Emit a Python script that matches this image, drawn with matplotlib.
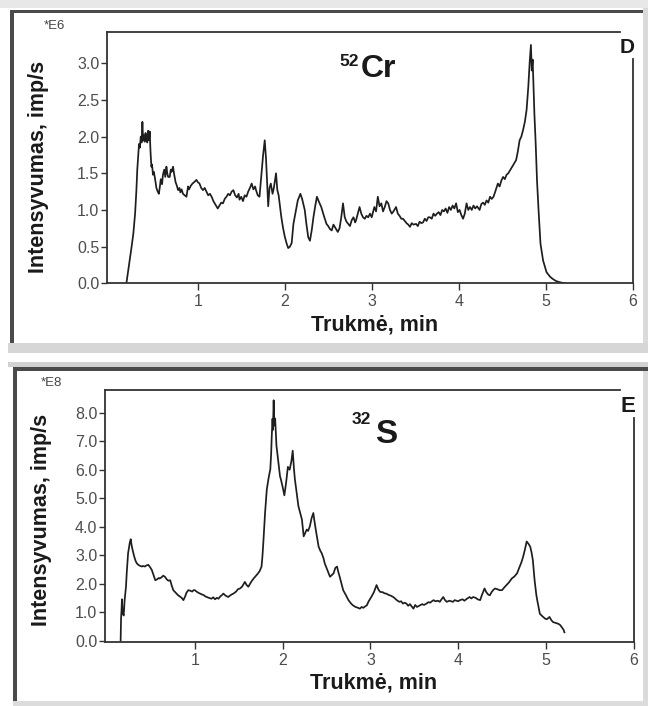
import matplotlib
matplotlib.use("Agg")
import matplotlib.pyplot as plt
from matplotlib.patches import Rectangle

plt.rcParams['font.family'] = ['Liberation Sans', 'DejaVu Sans']

# ---------------- data ----------------
cr_time = [0.18, 0.21, 0.24, 0.26, 0.28, 0.295, 0.305, 0.315, 0.325, 0.335, 0.345, 0.355, 0.364, 0.372,
           0.38, 0.39, 0.40, 0.41, 0.42, 0.43, 0.44, 0.448, 0.457, 0.467, 0.475, 0.485, 0.495, 0.506,
           0.515, 0.525, 0.54, 0.553, 0.563, 0.575, 0.59, 0.60, 0.615, 0.627, 0.64, 0.65, 0.66, 0.678,
           0.69, 0.70, 0.716, 0.73, 0.745, 0.76, 0.774, 0.79, 0.80, 0.815, 0.83, 0.85, 0.87, 0.88,
           0.889, 0.90, 0.92, 0.94, 0.96, 0.985, 1.00, 1.02, 1.04, 1.06, 1.08, 1.10, 1.12, 1.14,
           1.16, 1.18, 1.20, 1.22, 1.23, 1.25, 1.27, 1.29, 1.31, 1.33, 1.35, 1.37, 1.39, 1.41,
           1.43, 1.45, 1.47, 1.48, 1.50, 1.52, 1.54, 1.56, 1.58, 1.60, 1.62, 1.64, 1.66, 1.67,
           1.69, 1.71, 1.73, 1.75, 1.77, 1.785, 1.80, 1.81, 1.825, 1.84, 1.86, 1.875, 1.89, 1.90,
           1.915, 1.93, 1.945, 1.96, 1.98, 2.00, 2.02, 2.04, 2.06, 2.08, 2.10, 2.13, 2.15, 2.18,
           2.20, 2.23, 2.25, 2.27, 2.29, 2.31, 2.33, 2.35, 2.37, 2.39, 2.42, 2.45, 2.48, 2.50,
           2.52, 2.54, 2.56, 2.59, 2.61, 2.63, 2.65, 2.67, 2.69, 2.71, 2.73, 2.75, 2.77, 2.79,
           2.81, 2.82, 2.84, 2.86, 2.88, 2.90, 2.92, 2.94, 2.96, 2.98, 3.00, 3.03, 3.05, 3.07,
           3.09, 3.11, 3.13, 3.15, 3.17, 3.19, 3.21, 3.23, 3.25, 3.28, 3.30, 3.32, 3.34, 3.36,
           3.38, 3.40, 3.42, 3.44, 3.46, 3.48, 3.51, 3.53, 3.55, 3.57, 3.59, 3.61, 3.63, 3.65,
           3.67, 3.69, 3.71, 3.73, 3.75, 3.77, 3.79, 3.81, 3.83, 3.85, 3.87, 3.89, 3.91, 3.93,
           3.95, 3.97, 3.99, 4.01, 4.03, 4.05, 4.07, 4.09, 4.11, 4.13, 4.15, 4.17, 4.19, 4.21,
           4.24, 4.26, 4.28, 4.30, 4.32, 4.34, 4.36, 4.38, 4.40, 4.42, 4.45, 4.47, 4.49, 4.51,
           4.53, 4.55, 4.57, 4.59, 4.61, 4.63, 4.66, 4.68, 4.70, 4.72, 4.74, 4.76, 4.78, 4.80,
           4.815, 4.83, 4.84, 4.85, 4.86, 4.87, 4.885, 4.90, 4.92, 4.94, 4.97, 5.01, 5.05, 5.08,
           5.12, 5.16, 5.22]
cr_intensity = [0.00, 0.25, 0.50, 0.68, 0.95, 1.27, 1.55, 1.72, 1.90, 1.85, 2.00, 1.92, 2.20, 1.95,
                2.02, 1.93, 2.05, 1.98, 1.92, 2.08, 1.95, 2.07, 1.80, 1.59, 1.62, 1.48, 1.52, 1.45,
                1.38, 1.30, 1.25, 1.22, 1.30, 1.42, 1.35, 1.48, 1.55, 1.45, 1.59, 1.50, 1.45, 1.45,
                1.55, 1.52, 1.59, 1.48, 1.38, 1.33, 1.27, 1.30, 1.24, 1.28, 1.22, 1.20, 1.18, 1.25,
                1.32, 1.28, 1.33, 1.36, 1.38, 1.41, 1.38, 1.36, 1.30, 1.27, 1.30, 1.25, 1.20, 1.22,
                1.18, 1.12, 1.08, 1.04, 1.02, 1.06, 1.10, 1.09, 1.15, 1.18, 1.22, 1.20, 1.25, 1.27,
                1.20, 1.17, 1.22, 1.14, 1.18, 1.12, 1.20, 1.18, 1.25, 1.30, 1.36, 1.28, 1.32, 1.27,
                1.20, 1.18, 1.45, 1.73, 1.95, 1.70, 1.30, 1.05, 1.30, 1.36, 1.22, 1.30, 1.42, 1.50,
                1.27, 1.20, 1.05, 0.91, 0.76, 0.64, 0.55, 0.48, 0.50, 0.55, 0.81, 1.00, 1.13, 1.22,
                1.15, 1.00, 0.80, 0.63, 0.58, 0.72, 0.90, 1.05, 1.18, 1.12, 1.04, 0.92, 0.81, 0.78,
                0.74, 0.72, 0.80, 0.74, 0.70, 0.75, 0.90, 1.09, 0.90, 0.84, 0.81, 0.78, 0.86, 0.90,
                0.83, 0.86, 0.95, 1.04, 0.95, 0.90, 0.88, 0.92, 0.90, 0.95, 0.90, 1.04, 0.98, 1.18,
                1.05, 1.09, 0.98, 1.04, 1.12, 1.09, 1.00, 0.95, 0.98, 1.04, 0.95, 0.92, 0.88, 0.88,
                0.85, 0.82, 0.80, 0.77, 0.82, 0.80, 0.81, 0.78, 0.84, 0.82, 0.83, 0.88, 0.85, 0.90,
                0.90, 0.88, 0.95, 0.92, 0.95, 0.97, 0.93, 1.00, 0.98, 1.02, 0.96, 1.04, 1.00, 1.06,
                1.02, 1.09, 0.97, 1.00, 0.93, 0.88, 0.95, 1.09, 1.00, 1.04, 1.00, 1.06, 1.02, 1.05,
                1.00, 1.08, 1.10, 1.07, 1.13, 1.10, 1.18, 1.15, 1.18, 1.25, 1.36, 1.32, 1.40, 1.45,
                1.42, 1.48, 1.50, 1.54, 1.58, 1.62, 1.68, 1.80, 1.95, 2.00, 2.09, 2.20, 2.36, 2.68,
                3.00, 3.25, 2.90, 3.05, 2.70, 2.31, 1.90, 1.40, 0.95, 0.54, 0.31, 0.15, 0.09, 0.06,
                0.03, 0.015, 0.00]

s_time = [0.155, 0.16, 0.165, 0.17, 0.175, 0.18, 0.19, 0.20, 0.21, 0.216, 0.225, 0.235, 0.24, 0.25,
          0.26, 0.27, 0.28, 0.29, 0.30, 0.31, 0.325, 0.34, 0.36, 0.38, 0.395, 0.41, 0.43, 0.45,
          0.47, 0.49, 0.51, 0.53, 0.55, 0.57, 0.59, 0.60, 0.62, 0.64, 0.66, 0.68, 0.70, 0.72,
          0.735, 0.755, 0.77, 0.79, 0.81, 0.83, 0.85, 0.87, 0.89, 0.905, 0.926, 0.95, 0.97, 0.985,
          1.00, 1.02, 1.04, 1.06, 1.08, 1.10, 1.12, 1.135, 1.16, 1.19, 1.21, 1.23, 1.25, 1.27,
          1.29, 1.31, 1.325, 1.35, 1.38, 1.40, 1.42, 1.44, 1.47, 1.49, 1.515, 1.54, 1.57, 1.59,
          1.61, 1.63, 1.65, 1.67, 1.69, 1.72, 1.74, 1.76, 1.77, 1.78, 1.79, 1.80, 1.81, 1.82,
          1.84, 1.86, 1.87, 1.875, 1.885, 1.89, 1.898, 1.905, 1.915, 1.93, 1.95, 1.97, 1.985, 2.00,
          2.02, 2.04, 2.06, 2.08, 2.10, 2.115, 2.13, 2.14, 2.16, 2.18, 2.20, 2.22, 2.24, 2.26,
          2.275, 2.29, 2.31, 2.33, 2.35, 2.36, 2.38, 2.41, 2.43, 2.445, 2.465, 2.48, 2.50, 2.52,
          2.54, 2.56, 2.58, 2.60, 2.62, 2.635, 2.65, 2.67, 2.69, 2.72, 2.75, 2.78, 2.80, 2.83,
          2.86, 2.88, 2.90, 2.92, 2.94, 2.96, 2.98, 3.01, 3.04, 3.07, 3.09, 3.11, 3.14, 3.16,
          3.18, 3.21, 3.23, 3.26, 3.28, 3.30, 3.33, 3.35, 3.37, 3.39, 3.41, 3.43, 3.45, 3.47,
          3.49, 3.51, 3.53, 3.565, 3.59, 3.61, 3.64, 3.66, 3.68, 3.70, 3.72, 3.74, 3.77, 3.79,
          3.81, 3.83, 3.85, 3.87, 3.90, 3.92, 3.94, 3.96, 3.98, 4.00, 4.02, 4.05, 4.07, 4.10,
          4.13, 4.15, 4.17, 4.20, 4.22, 4.25, 4.27, 4.30, 4.32, 4.34, 4.36, 4.38, 4.40, 4.42,
          4.45, 4.47, 4.50, 4.52, 4.55, 4.58, 4.61, 4.64, 4.67, 4.70, 4.72, 4.74, 4.76, 4.78,
          4.80, 4.82, 4.835, 4.85, 4.87, 4.89, 4.90, 4.92, 4.93, 4.96, 4.99, 5.01, 5.04, 5.06,
          5.08, 5.11, 5.14, 5.16, 5.18, 5.20, 5.21]
s_intensity = [0.00, 0.80, 1.06, 1.45, 1.10, 0.95, 0.88, 1.40, 1.70, 1.89, 2.40, 2.85, 3.07, 3.25,
               3.45, 3.56, 3.35, 3.20, 3.07, 2.95, 2.80, 2.71, 2.65, 2.62, 2.60, 2.62, 2.60, 2.64,
               2.66, 2.58, 2.48, 2.30, 2.12, 2.15, 2.20, 2.18, 2.22, 2.28, 2.24, 2.15, 2.10, 2.12,
               1.95, 1.77, 1.72, 1.65, 1.59, 1.55, 1.50, 1.42, 1.55, 1.68, 1.77, 1.75, 1.72, 1.77,
               1.77, 1.72, 1.68, 1.65, 1.62, 1.60, 1.55, 1.53, 1.50, 1.47, 1.52, 1.45, 1.50, 1.47,
               1.55, 1.60, 1.65, 1.58, 1.53, 1.58, 1.62, 1.65, 1.72, 1.80, 1.83, 1.90, 2.06, 1.95,
               1.89, 2.00, 2.10, 2.18, 2.25, 2.36, 2.45, 2.60, 2.95, 3.42, 3.95, 4.48, 4.90, 5.31,
               5.70, 6.02, 6.60, 7.08, 7.79, 7.40, 8.44, 7.55, 7.80, 6.84, 6.30, 5.78, 5.60, 5.40,
               5.10, 5.55, 6.10, 6.00, 6.30, 6.67, 6.00, 5.66, 5.20, 4.72, 4.48, 4.25, 3.66, 3.80,
               3.90, 3.85, 4.01, 4.30, 4.48, 4.25, 3.85, 3.30, 3.15, 3.07, 2.90, 2.71, 2.55, 2.40,
               2.24, 2.30, 2.36, 2.55, 2.60, 2.40, 2.24, 2.00, 1.77, 1.60, 1.42, 1.30, 1.24, 1.18,
               1.15, 1.12, 1.18, 1.15, 1.20, 1.24, 1.38, 1.53, 1.70, 1.95, 1.80, 1.71, 1.70, 1.66,
               1.65, 1.60, 1.58, 1.53, 1.48, 1.42, 1.36, 1.38, 1.30, 1.33, 1.30, 1.22, 1.28, 1.20,
               1.12, 1.25, 1.18, 1.24, 1.28, 1.25, 1.30, 1.35, 1.33, 1.38, 1.42, 1.38, 1.40, 1.36,
               1.45, 1.53, 1.42, 1.36, 1.40, 1.38, 1.36, 1.42, 1.40, 1.38, 1.42, 1.45, 1.40, 1.47,
               1.53, 1.48, 1.53, 1.50, 1.45, 1.42, 1.60, 1.83, 1.70, 1.62, 1.59, 1.70, 1.78, 1.83,
               1.80, 1.77, 1.77, 1.85, 1.95, 2.05, 2.18, 2.25, 2.36, 2.60, 2.75, 2.95, 3.20, 3.48,
               3.40, 3.30, 3.10, 2.83, 2.12, 1.60, 1.42, 1.10, 0.94, 0.85, 0.77, 0.75, 0.83, 0.72,
               0.65, 0.62, 0.59, 0.55, 0.47, 0.38, 0.29]

cr_yticks = [0.0, 0.5, 1.0, 1.5, 2.0, 2.5, 3.0]
s_yticks = [0.0, 1.0, 2.0, 3.0, 4.0, 5.0, 6.0, 7.0, 8.0]
x_ticks = [1, 2, 3, 4, 5, 6]
xlabel_text = "Trukmė, min"
ylabel_text = "Intensyvumas, imp/s"

# ---------------- figure ----------------
W, H = 648, 706
fig = plt.figure(figsize=(W / 100, H / 100), dpi=100)
fig.patch.set_facecolor('white')


def fx(x):
    return x / W


def fy(y):
    return 1 - y / H


def rect(x0, y0, x1, y1, color):
    fig.add_artist(Rectangle((fx(x0), fy(y1)), (x1 - x0) / W, (y1 - y0) / H,
                             transform=fig.transFigure, facecolor=color,
                             edgecolor='none', zorder=0))


# panel frames
rect(0, 0, W, 8, '#e8e8e8')
rect(10, 10, W, 13, '#4a4a4a')
rect(10, 10, 13.5, 343, '#4a4a4a')
rect(643, 8, W, 343, '#dadada')
rect(8, 343, W, 353, '#d6d6d6')
rect(8, 362, W, 367, '#d2d2d2')
rect(13, 367, W, 371, '#4a4a4a')
rect(13, 367, 16.5, 701, '#4a4a4a')
rect(643, 371, W, 701, '#dadada')
rect(13, 701, W, 706, '#dcdcdc')

spine_col = '#333333'
tick_col = '#4d4d4d'
line_col = '#1e1e1e'


def style_axes(ax, xlim, ylim, yticks, top_end, right_start):
    ax.set_xlim(*xlim)
    ax.set_ylim(*ylim)
    ax.set_xticks(x_ticks)
    ax.set_xticklabels([str(t) for t in x_ticks])
    ax.set_yticks(yticks)
    ax.set_yticklabels([f"{v:.1f}" for v in yticks])
    for side in ['left', 'right', 'top', 'bottom']:
        ax.spines[side].set_color(spine_col)
        ax.spines[side].set_linewidth(1.3)
    ax.spines['top'].set_bounds(xlim[0], top_end)
    ax.spines['right'].set_bounds(ylim[0], right_start)
    ax.tick_params(axis='x', direction='out', length=5, width=1.0, color=spine_col,
                   pad=3, labelsize=11.5, labelcolor=tick_col)
    ax.tick_params(axis='y', direction='out', length=4, width=1.0, color=spine_col,
                   pad=1.5, labelsize=11.5, labelcolor=tick_col)
    ax.set_facecolor('white')


# ---- top panel: 52Cr ----
ax1 = fig.add_axes([fx(107), fy(283.3), (632.7 - 107) / W, (283.3 - 31.7) / H])
ax1.plot(cr_time, cr_intensity, color=line_col, lw=1.25)
style_axes(ax1, (-0.043, 6.0), (0.0, 3.43), cr_yticks, 5.85, 3.06)
ax1.set_xlabel(xlabel_text, fontsize=15.5, fontweight='bold', color='#1a1a1a')
ax1.xaxis.set_label_coords(0.509, -0.123)
ax1.set_ylabel(ylabel_text, fontsize=15.5, fontweight='bold', color='#1a1a1a')
ax1.yaxis.set_label_coords(-0.110, 0.462)

# ---- bottom panel: 32S ----
ax2 = fig.add_axes([fx(105), fy(642), (633.8 - 105) / W, (642 - 390) / H])
ax2.plot(s_time, s_intensity, color=line_col, lw=1.25)
style_axes(ax2, (-0.023, 6.0), (-0.05, 8.8), s_yticks, 5.84, 7.8)
ax2.set_xlabel(xlabel_text, fontsize=15.5, fontweight='bold', color='#1a1a1a')
ax2.xaxis.set_label_coords(0.508, -0.121)
ax2.set_ylabel(ylabel_text, fontsize=15.5, fontweight='bold', color='#1a1a1a')
ax2.yaxis.set_label_coords(-0.100, 0.484)

# exponent markers
fig.text(fx(54), fy(26), "*E6", fontsize=9.5, color='#444444', ha='center', va='center')
fig.text(fx(51), fy(383), "*E8", fontsize=9.5, color='#444444', ha='center', va='center')

# element titles
fig.text(fx(339), fy(66), "52", fontsize=12.5, fontweight='bold', color='#1a1a1a',
         ha='left', va='baseline')
fig.text(fx(361), fy(77), "Cr", fontsize=23, fontweight='bold', color='#1a1a1a',
         ha='left', va='baseline')
fig.text(fx(352), fy(424), "32", fontsize=12.5, fontweight='bold', color='#1a1a1a',
         ha='left', va='baseline')
fig.text(fx(375), fy(443), "S", fontsize=24, fontweight='bold', color='#1a1a1a',
         ha='left', va='baseline')

# panel letters
fig.text(fx(620), fy(53), "D", fontsize=15, fontweight='bold', color='#1a1a1a',
         ha='left', va='baseline')
fig.text(fx(621), fy(412), "E", fontsize=16, fontweight='bold', color='#1a1a1a',
         ha='left', va='baseline')

fig.savefig("out.png", dpi=100)
